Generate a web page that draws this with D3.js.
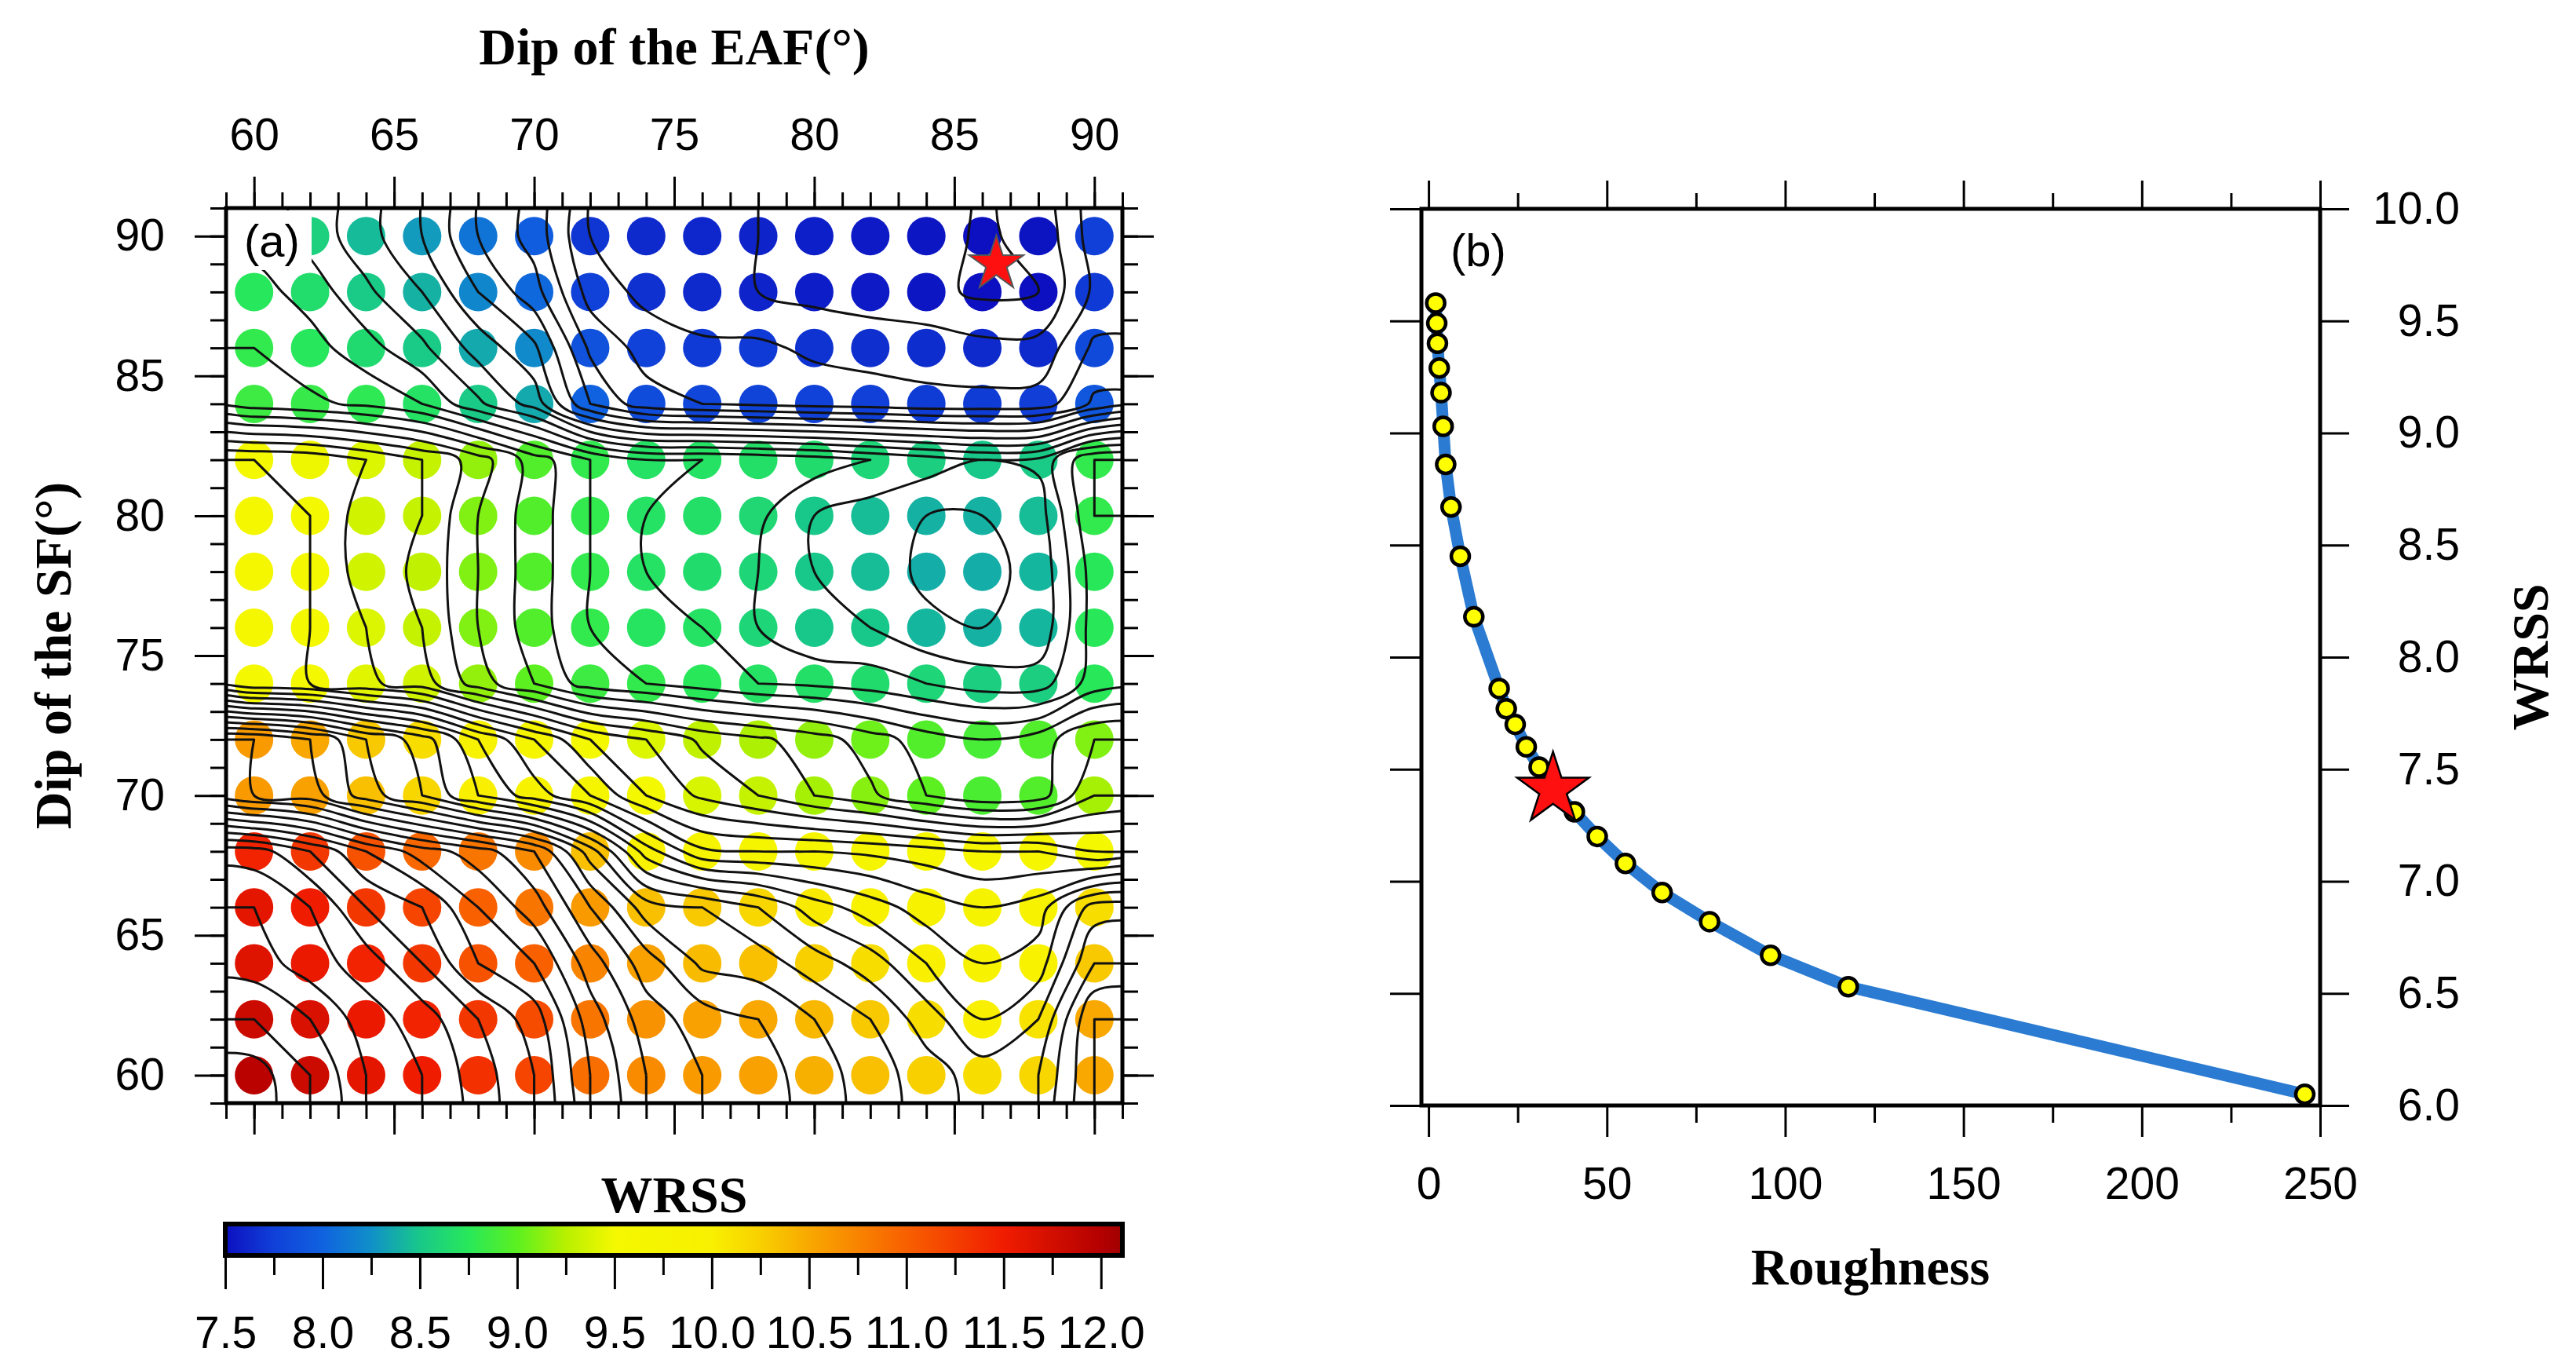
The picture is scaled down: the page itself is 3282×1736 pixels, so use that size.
<!DOCTYPE html>
<html>
<head>
<meta charset="utf-8">
<script src="https://cdn.jsdelivr.net/npm/d3@7"></script>
<style>
body { margin: 0; background: #fff; }
</style>
</head>
<body>
<script>
// ---------- data : panel (a) grid search ----------
var eaf_dips = [60, 62, 64, 66, 68, 70, 72, 74, 76, 78, 80, 82, 84, 86, 88, 90];
var sf_dips  = [90, 88, 86, 84, 82, 80, 78, 76, 74, 72, 70, 68, 66, 64, 62, 60];

var wrss_sf90 = [8.66, 8.56, 8.44, 8.3, 8.1, 7.96, 7.7, 7.63, 7.62, 7.6, 7.58, 7.55, 7.53, 7.49, 7.52, 7.75];
var wrss_sf88 = [8.74, 8.66, 8.52, 8.4, 8.2, 8.04, 7.76, 7.67, 7.63, 7.6, 7.57, 7.55, 7.53, 7.48, 7.5, 7.72];
var wrss_sf86 = [8.8, 8.74, 8.64, 8.52, 8.36, 8.22, 7.88, 7.76, 7.72, 7.72, 7.68, 7.66, 7.65, 7.63, 7.63, 7.82];
var wrss_sf84 = [8.85, 8.82, 8.78, 8.7, 8.52, 8.36, 8.0, 7.84, 7.8, 7.78, 7.76, 7.75, 7.73, 7.73, 7.74, 7.92];
var wrss_sf82 = [9.5, 9.48, 9.4, 9.3, 9.15, 8.95, 8.8, 8.7, 8.7, 8.68, 8.65, 8.6, 8.55, 8.5, 8.52, 8.8];
var wrss_sf80 = [9.55, 9.5, 9.35, 9.3, 9.1, 8.95, 8.8, 8.7, 8.68, 8.62, 8.5, 8.45, 8.4, 8.4, 8.45, 8.8];
var wrss_sf78 = [9.55, 9.5, 9.35, 9.28, 9.1, 8.95, 8.8, 8.7, 8.65, 8.6, 8.5, 8.45, 8.38, 8.38, 8.42, 8.75];
var wrss_sf76 = [9.55, 9.5, 9.4, 9.3, 9.1, 8.95, 8.8, 8.72, 8.7, 8.6, 8.5, 8.5, 8.42, 8.4, 8.42, 8.75];
var wrss_sf74 = [9.52, 9.5, 9.42, 9.35, 9.15, 9.0, 8.85, 8.8, 8.75, 8.7, 8.68, 8.65, 8.6, 8.55, 8.55, 8.75];
var wrss_sf72 = [10.6, 10.5, 10.3, 10.15, 9.9, 9.7, 9.5, 9.4, 9.28, 9.22, 9.15, 9.05, 8.95, 8.9, 8.95, 9.1];
var wrss_sf70 = [10.6, 10.55, 10.35, 10.2, 10.0, 9.85, 9.7, 9.5, 9.38, 9.3, 9.2, 9.12, 9.0, 8.92, 8.95, 9.2];
var wrss_sf68 = [11.45, 11.3, 11.1, 10.95, 10.85, 10.7, 10.35, 9.95, 9.72, 9.7, 9.7, 9.68, 9.65, 9.6, 9.6, 9.5];
var wrss_sf66 = [11.6, 11.5, 11.3, 11.2, 11.0, 10.85, 10.6, 10.35, 10.3, 10.2, 10.05, 9.95, 9.85, 9.8, 9.85, 10.15];
var wrss_sf64 = [11.65, 11.55, 11.45, 11.3, 11.1, 11.0, 10.75, 10.55, 10.38, 10.35, 10.25, 10.15, 10.0, 9.9, 9.95, 10.3];
var wrss_sf62 = [11.8, 11.7, 11.55, 11.45, 11.3, 11.15, 10.85, 10.65, 10.55, 10.5, 10.4, 10.3, 10.15, 10.0, 10.1, 10.5];
var wrss_sf60 = [11.95, 11.8, 11.6, 11.5, 11.35, 11.2, 10.9, 10.7, 10.6, 10.55, 10.45, 10.35, 10.25, 10.15, 10.2, 10.5];

var best_dips = [86.5, 89];          // EAF, SF

// ---------- data : panel (b) trade-off curve ----------
var roughness  = [2.0, 2.3, 2.5, 3.0, 3.5, 4.1, 4.8, 6.3, 8.9, 12.7, 19.8, 21.8, 24.3, 27.4, 31.0, 34.9, 40.9, 47.3, 55.2, 65.5, 78.8, 95.9, 117.7, 245.7];
var wrss_curve = [9.58, 9.49, 9.40, 9.29, 9.18, 9.03, 8.86, 8.67, 8.45, 8.18, 7.86, 7.77, 7.70, 7.60, 7.51, 7.41, 7.31, 7.20, 7.08, 6.95, 6.82, 6.67, 6.53, 6.05];
var best_point = [34.9, 7.41];

// ---------- ticks ----------
var dip_ticks = [60, 65, 70, 75, 80, 85, 90];
var dip_minor = [59, 60, 61, 62, 63, 64, 65, 66, 67, 68, 69, 70, 71, 72, 73, 74, 75, 76, 77, 78, 79, 80, 81, 82, 83, 84, 85, 86, 87, 88, 89, 90, 91];
var cb_ticks = [7.5, 8.0, 8.5, 9.0, 9.5, 10.0, 10.5, 11.0, 11.5, 12.0];
var cb_minor = [7.75, 8.25, 8.75, 9.25, 9.75, 10.25, 10.75, 11.25, 11.75];
var rough_ticks = [0, 50, 100, 150, 200, 250];
var rough_minor = [25, 75, 125, 175, 225];
var wrss_ticks = [6.0, 6.5, 7.0, 7.5, 8.0, 8.5, 9.0, 9.5, 10.0];

// colour table
var cmap_values = [7.5, 7.75, 8.0, 8.25, 8.5, 8.75, 9.0, 9.25, 9.5, 10.0, 10.25, 10.5, 10.75, 11.0, 11.5, 12.0, 12.11];
var cmap_colors = ["#0c10c0", "#1040d8", "#1062e0", "#1090c8", "#18c88a", "#28e85a", "#5cf020", "#b8f000",
                   "#f4f800", "#f8f000", "#f8d000", "#f8a800", "#f88400", "#f86000", "#f01c00", "#b40000", "#a00000"];

var sans = "Liberation Sans, Arial, Helvetica, sans-serif";
var serif = "Liberation Serif, Times New Roman, serif";

var svg = d3.select("body").append("svg")
			.attr("width", 3282)
			.attr("height", 1736);

svg.append("rect").attr("width", 3282).attr("height", 1736).attr("fill", "#fff");

var color = d3.scaleLinear().domain(cmap_values).range(cmap_colors).clamp(true);

function styleAxis(g) {
	g.select(".domain").remove();
	g.attr("font-family", sans).attr("font-size", 57);
	g.selectAll(".tick line").attr("stroke", "#000").attr("stroke-width", 3);
	g.selectAll(".tick text").attr("fill", "#000");
	return g;
}
function addAxis(axis, tx, ty) {
	return styleAxis(svg.append("g").attr("transform", "translate(" + tx + "," + ty + ")").call(axis));
}

// =============== panel (a) ===============
var xA = d3.scaleLinear().domain([59, 91]).range([288, 1430]);
var yA = d3.scaleLinear().domain([59, 91]).range([1405, 265]);

var defs = svg.append("defs");
defs.append("clipPath").attr("id", "clipA")
	.append("rect").attr("x", 288).attr("y", 265).attr("width", 1142).attr("height", 1140);

var wrss_rows = [wrss_sf90, wrss_sf88, wrss_sf86, wrss_sf84, wrss_sf82, wrss_sf80, wrss_sf78, wrss_sf76,
                 wrss_sf74, wrss_sf72, wrss_sf70, wrss_sf68, wrss_sf66, wrss_sf64, wrss_sf62, wrss_sf60];

var cells = [];
sf_dips.forEach(function(sf, j) {
	eaf_dips.forEach(function(eaf, i) {
		cells.push({eaf: eaf, sf: sf, v: wrss_rows[j][i]});
	});
});

svg.append("g").attr("id", "dots")
	.selectAll("circle")
	.data(cells)
	.enter()
	.append("circle")
	.attr("cx", function(d) { return xA(d.eaf); })
	.attr("cy", function(d) { return yA(d.sf); })
	.attr("r", 24.5)
	.attr("fill", function(d) { return color(d.v); });

// contours: pad grid by one replicated cell on each side so lines run out to the frame
var padRows = [wrss_rows[0]].concat(wrss_rows, [wrss_rows[wrss_rows.length - 1]]);
var grid = [];
padRows.forEach(function(r) {
	[r[0]].concat(r, [r[r.length - 1]]).forEach(function(v) { grid.push(v); });
});
var nx = eaf_dips.length + 2, ny = sf_dips.length + 2;
var levels = d3.range(75, 121).map(function(d) { return d / 10; });
var contours = d3.contours().size([nx, ny]).thresholds(levels)(grid);

var step = eaf_dips[1] - eaf_dips[0];
function gx(c) { return xA(eaf_dips[0] - step + step * (c - 0.5)); }
function gy(r) { return yA(sf_dips[0] + step - step * (r - 0.5)); }

// smooth each ring with a closed Catmull-Rom spline
var ringLine = d3.line().curve(d3.curveCatmullRomClosed.alpha(0.5));
function contourPath(mp) {
	var d = "";
	mp.coordinates.forEach(function(poly) {
		poly.forEach(function(ring) {
			var pts = ring.slice(0, ring.length - 1).map(function(p) { return [gx(p[0]), gy(p[1])]; });
			if (pts.length > 2) d += ringLine(pts);
		});
	});
	return d;
}

svg.append("g").attr("clip-path", "url(#clipA)")
	.selectAll("path")
	.data(contours)
	.enter()
	.append("path")
	.attr("d", contourPath)
	.attr("fill", "none")
	.attr("stroke", "#111")
	.attr("stroke-width", 3)
	.attr("stroke-linejoin", "round");

// best model star
svg.append("path")
	.attr("d", d3.symbol(d3.symbolStar).size(1500)())
	.attr("transform", "translate(" + xA(best_dips[0]) + "," + yA(best_dips[1]) + ")")
	.attr("fill", "#ff1010")
	.attr("stroke", "#555")
	.attr("stroke-width", 2);

// panel label with white box
svg.append("rect").attr("x", 290).attr("y", 268).attr("width", 107).attr("height", 76).attr("fill", "#fff");
svg.append("text").attr("x", 311).attr("y", 327)
	.attr("font-family", sans).attr("font-size", 58).text("(a)");

svg.append("rect").attr("x", 288).attr("y", 265).attr("width", 1142).attr("height", 1140)
	.attr("fill", "none").attr("stroke", "#000").attr("stroke-width", 5);

addAxis(d3.axisTop(xA).tickValues(dip_ticks).tickSize(40).tickPadding(34).tickFormat(d3.format("d")), 0, 265);
addAxis(d3.axisTop(xA).tickValues(dip_minor).tickSize(20).tickFormat(""), 0, 265);
addAxis(d3.axisBottom(xA).tickValues(dip_ticks).tickSize(40).tickFormat(""), 0, 1405);
addAxis(d3.axisBottom(xA).tickValues(dip_minor).tickSize(20).tickFormat(""), 0, 1405);
addAxis(d3.axisLeft(yA).tickValues(dip_ticks).tickSize(40).tickPadding(38).tickFormat(d3.format("d")), 288, 0);
addAxis(d3.axisLeft(yA).tickValues(dip_minor).tickSize(20).tickFormat(""), 288, 0);
addAxis(d3.axisRight(yA).tickValues(dip_ticks).tickSize(40).tickFormat(""), 1430, 0);
addAxis(d3.axisRight(yA).tickValues(dip_minor).tickSize(20).tickFormat(""), 1430, 0);

svg.append("text").attr("x", 859).attr("y", 82).attr("text-anchor", "middle")
	.attr("font-family", serif).attr("font-weight", "bold").attr("font-size", 66)
	.text("Dip of the EAF(°)");
svg.append("text").attr("transform", "translate(90,835) rotate(-90)").attr("text-anchor", "middle")
	.attr("font-family", serif).attr("font-weight", "bold").attr("font-size", 66)
	.text("Dip of the SF(°)");

// colour bar
var cbScale = d3.scaleLinear().domain([7.5, 12.11]).range([287, 1430]);
var grad = defs.append("linearGradient").attr("id", "cbGrad")
	.attr("gradientUnits", "userSpaceOnUse")
	.attr("x1", 287).attr("x2", 1430).attr("y1", 0).attr("y2", 0);
cmap_values.forEach(function(v, i) {
	grad.append("stop")
		.attr("offset", (cbScale(v) - 287) / (1430 - 287))
		.attr("stop-color", cmap_colors[i]);
});
svg.append("rect").attr("x", 287).attr("y", 1559).attr("width", 1143).attr("height", 40)
	.attr("fill", "url(#cbGrad)").attr("stroke", "#000").attr("stroke-width", 6);
addAxis(d3.axisBottom(cbScale).tickValues(cb_ticks).tickSize(40).tickPadding(35).tickFormat(d3.format(".1f")), 0, 1602);
addAxis(d3.axisBottom(cbScale).tickValues(cb_minor).tickSize(22).tickFormat(""), 0, 1602);
svg.append("text").attr("x", 859).attr("y", 1544).attr("text-anchor", "middle")
	.attr("font-family", serif).attr("font-weight", "bold").attr("font-size", 66)
	.text("WRSS");

// =============== panel (b) ===============
var xB = d3.scaleLinear().domain([-2, 250]).range([1811, 2956]);
var yB = d3.scaleLinear().domain([6, 10]).range([1408, 266]);

var curve = d3.zip(roughness, wrss_curve);
var line = d3.line()
	.x(function(d) { return xB(d[0]); })
	.y(function(d) { return yB(d[1]); });

svg.append("path")
	.datum(curve)
	.attr("d", line)
	.attr("fill", "none")
	.attr("stroke", "#2a7bd1")
	.attr("stroke-width", 15)
	.attr("stroke-linejoin", "round")
	.attr("stroke-linecap", "round");

svg.append("g").attr("id", "curve_points")
	.selectAll("circle")
	.data(curve)
	.enter()
	.append("circle")
	.attr("cx", function(d) { return xB(d[0]); })
	.attr("cy", function(d) { return yB(d[1]); })
	.attr("r", 11.5)
	.attr("fill", "#ffff00")
	.attr("stroke", "#000")
	.attr("stroke-width", 4.5);

svg.append("path")
	.attr("d", d3.symbol(d3.symbolStar).size(2600)())
	.attr("transform", "translate(" + xB(best_point[0]) + "," + yB(best_point[1]) + ")")
	.attr("fill", "#ff1010")
	.attr("stroke", "#000")
	.attr("stroke-width", 2.5);

svg.append("text").attr("x", 1848).attr("y", 339)
	.attr("font-family", sans).attr("font-size", 58).text("(b)");

svg.append("rect").attr("x", 1811).attr("y", 266).attr("width", 1145).attr("height", 1142)
	.attr("fill", "none").attr("stroke", "#000").attr("stroke-width", 5);

addAxis(d3.axisBottom(xB).tickValues(rough_ticks).tickSize(40).tickPadding(39).tickFormat(d3.format("d")), 0, 1408);
addAxis(d3.axisBottom(xB).tickValues(rough_minor).tickSize(22).tickFormat(""), 0, 1408);
addAxis(d3.axisTop(xB).tickValues(rough_ticks).tickSize(36).tickFormat(""), 0, 266);
addAxis(d3.axisTop(xB).tickValues(rough_minor).tickSize(20).tickFormat(""), 0, 266);
addAxis(d3.axisLeft(yB).tickValues(wrss_ticks).tickSize(40).tickFormat(""), 1811, 0);
var rightB = addAxis(d3.axisRight(yB).tickValues(wrss_ticks).tickSize(37).tickFormat(d3.format(".1f")), 2956, 0);
rightB.selectAll(".tick text").attr("text-anchor", "end").attr("x", 178);

svg.append("text").attr("x", 2383).attr("y", 1636).attr("text-anchor", "middle")
	.attr("font-family", serif).attr("font-weight", "bold").attr("font-size", 66)
	.text("Roughness");
svg.append("text").attr("transform", "translate(3246,837) rotate(-90)").attr("text-anchor", "middle")
	.attr("font-family", serif).attr("font-weight", "bold").attr("font-size", 66)
	.text("WRSS");
</script>
</body>
</html>
